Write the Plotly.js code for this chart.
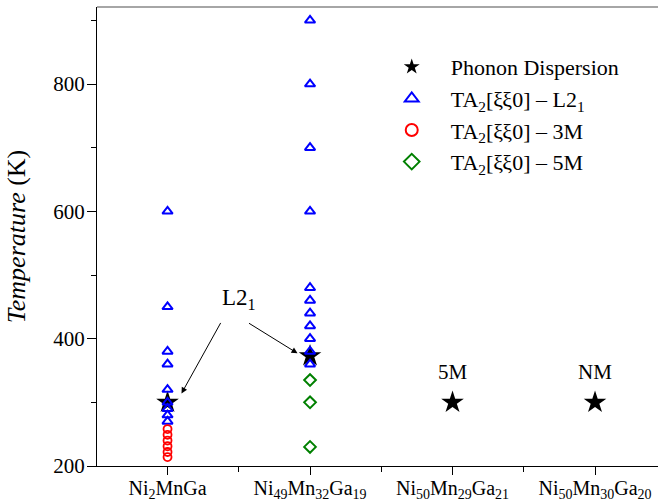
<!DOCTYPE html>
<html>
<head>
<meta charset="utf-8">
<script src="https://cdn.plot.ly/plotly-3.0.1.min.js"></script>
<style>html,body{margin:0;padding:0;background:#fff;} #chart{width:658px;height:504px;}</style>
</head>
<body>
<div id="chart"></div>
<script>
// Categories (x positions 0..3)
const categories = ['Ni<sub>2</sub>MnGa', 'Ni<sub>49</sub>Mn<sub>32</sub>Ga<sub>19</sub>', 'Ni<sub>50</sub>Mn<sub>29</sub>Ga<sub>21</sub>', 'Ni<sub>50</sub>Mn<sub>30</sub>Ga<sub>20</sub>'];
const catIndex = [0, 1, 2, 3];
const yTicks = [200, 400, 600, 800];
const yMinorTicks = [300, 500, 700, 900];

// Phonon dispersion (stars)
const phononX = [0, 1, 2, 3];
const phononT = [300, 373, 300, 300];

// TA2[xixi0] - L21 (triangles)
const l21X = [0, 0, 0, 0, 0, 0, 0, 0, 0,
              1, 1, 1, 1, 1, 1, 1, 1, 1, 1, 1];
const l21T = [600, 450, 380, 360, 320, 300, 290, 280, 270,
              900, 800, 700, 600, 480, 460, 440, 420, 400, 380, 360];

// TA2[xixi0] - 3M (circles)
const m3X = [0, 0, 0, 0, 0, 0];
const m3T = [258, 249, 240, 231, 222, 214];

// TA2[xixi0] - 5M (diamonds)
const m5X = [1, 1, 1];
const m5T = [335, 300, 230];

const serif = 'Times New Roman, Liberation Serif, DejaVu Serif, serif';

const traces = [
  {x: phononX, y: phononT, type: 'scatter', mode: 'markers', name: 'Phonon Dispersion',
   marker: {symbol: 'star', size: 17, color: '#000000', line: {width: 0}}},
  {x: l21X, y: l21T, type: 'scatter', mode: 'markers', name: 'TA<sub>2</sub>[ξξ0] – L2<sub>1</sub>',
   marker: {symbol: 'triangle-up-open', size: 9, color: '#0000FF', line: {width: 2, color: '#0000FF'}}},
  {x: m3X, y: m3T, type: 'scatter', mode: 'markers', name: 'TA<sub>2</sub>[ξξ0] – 3M',
   marker: {symbol: 'circle-open', size: 8, color: '#FF0000', line: {width: 1.8, color: '#FF0000'}}},
  {x: m5X, y: m5T, type: 'scatter', mode: 'markers', name: 'TA<sub>2</sub>[ξξ0] – 5M',
   marker: {symbol: 'diamond-open', size: 9, color: '#008000', line: {width: 2, color: '#008000'}}},
  // empty helper trace so the tick-only overlay axis is drawn
  {x: [], y: [], yaxis: 'y2', type: 'scatter', mode: 'markers', showlegend: false, hoverinfo: 'skip'}
];

const layout = {
  width: 658, height: 504,
  margin: {l: 97, r: 0, t: 7, b: 38},
  paper_bgcolor: '#fff', plot_bgcolor: '#fff',
  font: {family: serif, color: '#000', size: 19},
  showlegend: true,
  legend: {x: 0.4915, y: 0.915, xanchor: 'left', yanchor: 'top', bgcolor: 'rgba(0,0,0,0)', itemwidth: 68,
           font: {family: serif, size: 22, color: '#000'}, tracegroupgap: 0, itemsizing: 'constant'},
  xaxis: {
    range: [-0.495, 3.442], tickmode: 'array', tickvals: catIndex, ticktext: categories,
    showgrid: false, zeroline: false, showline: true, linecolor: '#000', linewidth: 1,
    ticks: 'outside', ticklen: 8, tickcolor: '#000', tickwidth: 1, ticklabelstandoff: -4,
    tickfont: {family: serif, size: 20, color: '#000'},
    minor: {tickmode: 'array', tickvals: [0.5, 1.5, 2.5], ticks: 'outside', ticklen: 5, tickcolor: '#000', showgrid: false}
  },
  yaxis: {
    range: [200, 921], tickmode: 'array', tickvals: yTicks,
    showgrid: false, zeroline: false, showline: true, linecolor: '#000', linewidth: 1,
    ticks: '', ticklabelstandoff: 7,
    tickfont: {family: serif, size: 21, color: '#000'},
    title: {text: '<i>Temperature</i> (K)', font: {family: serif, size: 26, color: '#000'}, standoff: 20}
  },
  yaxis2: {
    overlaying: 'y', side: 'left', range: [200, 921], tickmode: 'array', tickvals: yTicks,
    showticklabels: false, showgrid: false, zeroline: false, showline: false,
    ticks: 'outside', ticklen: 9, tickcolor: '#000', tickwidth: 1,
    minor: {tickmode: 'array', tickvals: yMinorTicks, ticks: 'outside', ticklen: 5, tickcolor: '#000', showgrid: false}
  },
  shapes: [
    {type: 'line', xref: 'paper', yref: 'paper', x0: 0, x1: 1, y0: 1, y1: 1, line: {color: '#888', width: 1.5}}
  ],
  annotations: [
    {x: 0.5, y: 462, xref: 'x', yref: 'y', text: 'L2<sub>1</sub>', showarrow: false,
     font: {family: serif, size: 23, color: '#000'}},
    {x: 0.098, y: 314, xref: 'x', yref: 'y', text: '', showarrow: true, ax: 40, ay: -72,
     arrowhead: 2, arrowsize: 1.2, arrowwidth: 1, arrowcolor: '#000'},
    {x: 0.912, y: 377, xref: 'x', yref: 'y', text: '', showarrow: true, ax: -50, ay: -31,
     arrowhead: 2, arrowsize: 1.2, arrowwidth: 1, arrowcolor: '#000'},
    {x: 2, y: 348, xref: 'x', yref: 'y', text: '5M', showarrow: false,
     font: {family: serif, size: 21, color: '#000'}},
    {x: 3, y: 348, xref: 'x', yref: 'y', text: 'NM', showarrow: false,
     font: {family: serif, size: 21, color: '#000'}}
  ]
};

Plotly.newPlot('chart', traces, layout, {displayModeBar: false, staticPlot: true});
</script>
</body>
</html>
